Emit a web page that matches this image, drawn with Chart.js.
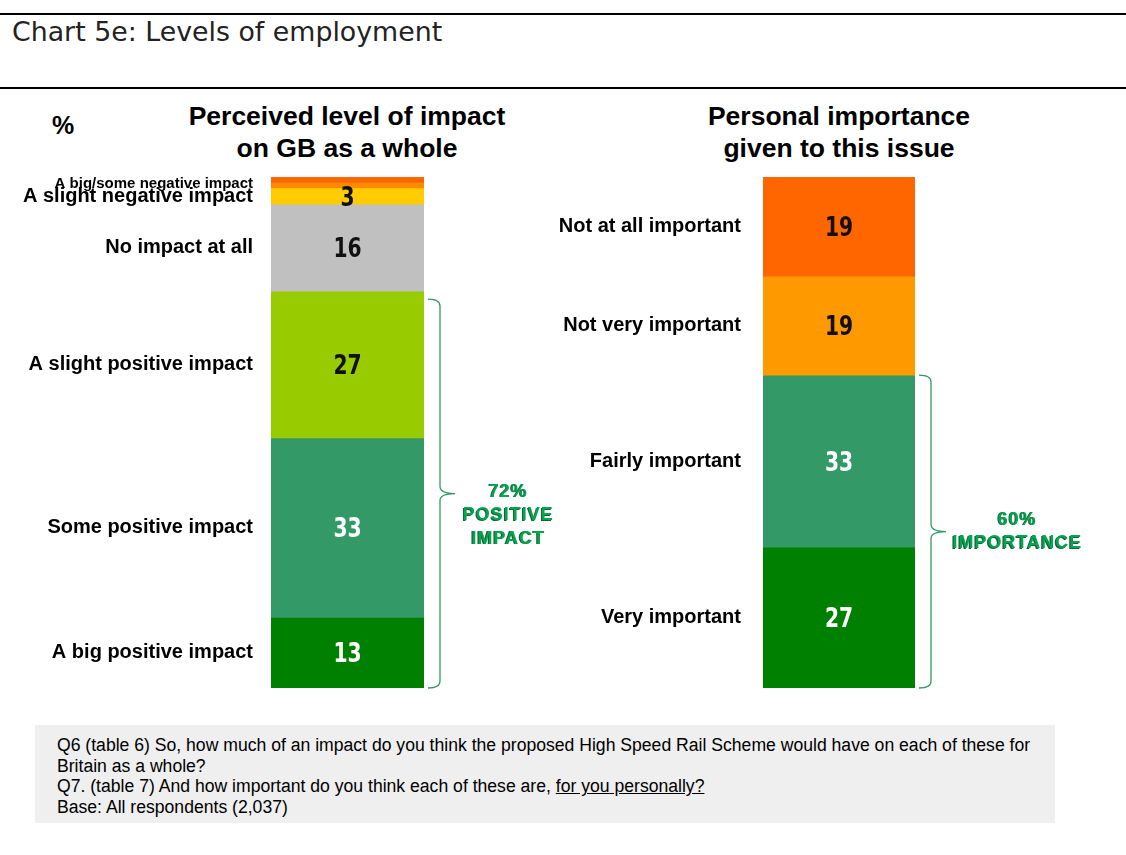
<!DOCTYPE html>
<html><head><meta charset="utf-8">
<script src="https://cdn.jsdelivr.net/npm/chart.js@4.4.1/dist/chart.umd.min.js"></script>
<style>
body{margin:0;width:1126px;height:855px;position:relative;background:#fff;overflow:hidden;font-family:"Liberation Sans",Arial,sans-serif;color:#000}
.rule{position:absolute;left:0;width:1126px;height:2px;background:#000}
#hdr{position:absolute;left:12px;top:15px;font:26.8px "DejaVu Sans",Verdana,sans-serif;color:#222;line-height:34px;white-space:nowrap}
.ptitle{position:absolute;width:420px;font-weight:bold;font-size:26.5px;text-align:center;line-height:32px;top:100px}
#pct{position:absolute;left:52px;top:110px;font-weight:bold;font-size:25px;line-height:30px}
canvas{position:absolute}
#note{position:absolute;left:35px;top:725px;width:998px;height:88px;padding:10px 0 0 22px;background:#efefef;font-family:"Liberation Sans Narrow","Arial Narrow","Liberation Sans",sans-serif;font-size:17.6px;line-height:20.7px;white-space:nowrap}
</style></head>
<body>
<div class="rule" style="top:13px"></div>
<div id="hdr">Chart 5e: Levels of employment</div>
<div class="rule" style="top:87px"></div>
<div id="pct">%</div>
<div class="ptitle" style="left:137px">Perceived level of impact<br>on GB as a whole</div>
<div class="ptitle" style="left:629px">Personal importance<br>given to this issue</div>
<canvas id="c1" width="560" height="630" style="left:0;top:90px"></canvas>
<canvas id="c2" width="566" height="630" style="left:560px;top:90px"></canvas>
<div id="note">Q6 (table 6) So, how much of an impact do you think the proposed High Speed Rail Scheme would have on each of these for<br>Britain as a whole?<br>Q7. (table 7) And how important do you think each of these are, <u>for you personally?</u><br>Base: All respondents (2,037)</div>
<script>
// ---- data ----
const impactSegments = ["A big negative impact","Some negative impact","A slight negative impact","No impact at all","A slight positive impact","Some positive impact","A big positive impact"];
const impactValues = [1, 1, 3, 16, 27, 33, 13];
const impactLabels = ["A big/some negative impact", null, "A slight negative impact", "No impact at all", "A slight positive impact", "Some positive impact", "A big positive impact"];
const impactBracketText = ["72%", "POSITIVE", "IMPACT"];

const importanceSegments = ["Not at all important","Not very important","Fairly important","Very important"];
const importanceValues = [19, 19, 33, 27];
const importanceLabels = ["Not at all important","Not very important","Fairly important","Very important"];
const importanceBracketText = ["60%", "IMPORTANCE"];

// ---- styles ----
const impactColors = ['#FF6600','#FF8C00','#FFCC00','#C0C0C0','#99CC00','#339966','#008000'];
const impactTextColors = ['#111','#111','#111','#111','#111','#fff','#fff'];
const importanceColors = ['#FF6600','#FF9900','#339966','#008000'];
const importanceTextColors = ['#111','#111','#fff','#fff'];

const VALUE_FONT = 'bold 26px "DejaVu Sans","Liberation Sans",sans-serif';

const annotPlugin = {
  id: 'annot',
  afterDatasetsDraw(chart) {
    const o = chart.options.plugins.annot;
    const ctx = chart.ctx, ys = chart.scales.y, ca = chart.chartArea;
    const vals = o.values;
    const starts = [], ends = [];
    let acc = 0;
    vals.forEach(v => { starts.push(acc); acc += v; ends.push(acc); });
    const cx = (ca.left + ca.right) / 2;
    ctx.save();
    // values (condensed look)
    ctx.textAlign = 'center'; ctx.textBaseline = 'middle';
    ctx.font = VALUE_FONT;
    vals.forEach((v, i) => {
      if (v < 3) return;
      const m = (ys.getPixelForValue(starts[i]) + ys.getPixelForValue(ends[i])) / 2;
      ctx.save();
      ctx.translate(cx, m + 3);
      ctx.scale(0.78, 1);
      ctx.fillStyle = o.textColors[i];
      ctx.fillText(String(v), 0, 0);
      ctx.restore();
    });
    // category labels
    ctx.textAlign = 'right'; ctx.fillStyle = '#000';
    o.labels.forEach((lab, i) => {
      if (!lab) return;
      let j = i;
      while (j + 1 < o.labels.length && o.labels[j + 1] === null) j++;
      const y0 = ys.getPixelForValue(starts[i]), y1 = ys.getPixelForValue(ends[j]);
      const small = (y1 - y0) < 14;
      ctx.font = 'bold ' + (small ? 15 : 20) + 'px "Liberation Sans",Arial,sans-serif';
      ctx.fillText(lab, ca.left - o.labelGap, (y0 + y1) / 2 + (small ? 1 : 0));
    });
    // bracket
    const b = o.bracket;
    const yTop = ys.getPixelForValue(starts[b.from]) + b.inset;
    const yBot = ys.getPixelForValue(ends[vals.length - 1]);
    const x0 = ca.right + 4, xm = x0 + 12, tip = 15, ym = (yTop + yBot) / 2;
    ctx.strokeStyle = '#339966'; ctx.lineWidth = 1.3;
    ctx.beginPath();
    ctx.moveTo(x0, yTop);
    ctx.quadraticCurveTo(xm, yTop, xm, yTop + 7);
    ctx.lineTo(xm, ym - 7);
    ctx.quadraticCurveTo(xm, ym, xm + tip, ym);
    ctx.moveTo(xm + tip, ym);
    ctx.quadraticCurveTo(xm, ym, xm, ym + 7);
    ctx.lineTo(xm, yBot - 7);
    ctx.quadraticCurveTo(xm, yBot, x0, yBot);
    ctx.stroke();
    // bracket text
    ctx.textAlign = 'center';
    ctx.font = 'bold 18px "Liberation Sans",Arial,sans-serif';
    try { ctx.letterSpacing = '1px'; } catch (e) {}
    const lh = 23.5;
    const firstY = ym + b.textShift;
    b.text.forEach((t, k) => {
      const tx = ca.right + b.textDx, ty = firstY + k * lh;
      ctx.fillStyle = '#1d5e36';
      ctx.fillText(t, tx - 0.8, ty + 0.6);
      ctx.fillStyle = '#00A650';
      ctx.fillText(t, tx + 0.3, ty);
    });
    ctx.restore();
  }
};

function makeChart(id, names, values, colors, textColors, labels, padL, padR, labelGap, bracket) {
  const total = values.reduce((a, b) => a + b, 0);
  return new Chart(document.getElementById(id), {
    type: 'bar',
    data: {
      labels: [''],
      datasets: names.map((n, i) => ({
        label: n, data: [values[i]], backgroundColor: colors[i], borderWidth: 0,
        barPercentage: 1, categoryPercentage: 1, stack: 's'
      }))
    },
    options: {
      responsive: false, animation: false, devicePixelRatio: 1,
      layout: { padding: { left: padL, right: padR, top: 87, bottom: 32 } },
      plugins: {
        legend: { display: false }, tooltip: { enabled: false }, title: { display: false },
        annot: { values, textColors, labels, labelGap, bracket }
      },
      scales: {
        x: { display: false, stacked: true },
        y: { display: false, stacked: true, reverse: true, min: 0, max: total }
      }
    },
    plugins: [annotPlugin]
  });
}

makeChart('c1', impactSegments, impactValues, impactColors, impactTextColors, impactLabels,
  271, 136, 18, { from: 4, inset: 8, text: impactBracketText, textDx: 84, textShift: -2 });
makeChart('c2', importanceSegments, importanceValues, importanceColors, importanceTextColors, importanceLabels,
  203, 211, 22, { from: 2, inset: 0, text: importanceBracketText, textDx: 102, textShift: -12 });
</script>
</body></html>
